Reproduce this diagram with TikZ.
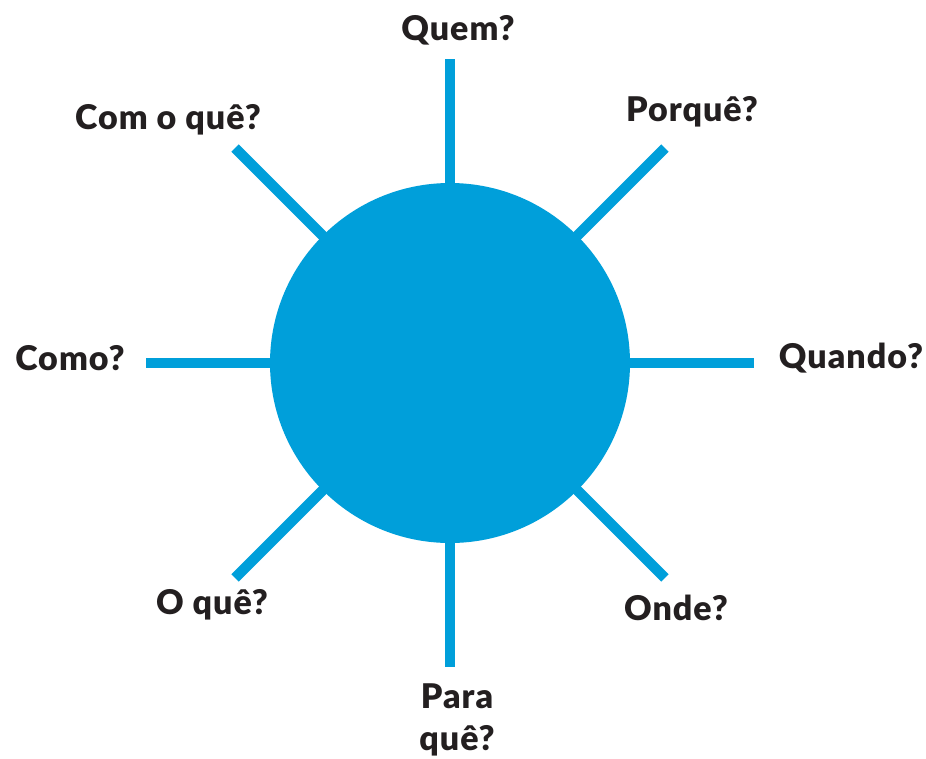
\documentclass[tikz,border=0pt]{standalone}
\usepackage{fontspec}
\setmainfont{Lato}[BoldFont={* Black},LetterSpace=3]
\usetikzlibrary{calc}
\definecolor{sunblue}{HTML}{009FDA}
\definecolor{txt}{HTML}{231F20}
\begin{document}
\begin{tikzpicture}[x=1pt,y=-1pt,
  ray/.style={draw=sunblue,line width=10.5pt},
  lbl/.style={text=txt,font=\fontsize{34}{42}\selectfont\bfseries,inner sep=0pt,align=center}]
\useasboundingbox (0,0) rectangle (926,758);
\coordinate (c) at (450,363);
\foreach \a/\n in {90/t,45/tr,0/r,-45/br,-90/b,-135/bl,180/l,135/tl}{
  \coordinate (e\n) at ($(c)+(\a:304)$);
}
\foreach \n in {t,tr,r,br,b,bl,l,tl}{
  \draw[ray] (c) -- (e\n);
}
\node[circle,fill=sunblue,minimum size=360pt,inner sep=0pt] (sun) at (c) {};
\node[lbl] (quem) at (458,30) {Quem?};
\node[lbl] (porque) at (692,112) {Porquê?};
\node[lbl] (quando) at (851,358) {Quando?};
\node[lbl] (onde) at (676,608) {Onde?};
\node[lbl] (para) at (457,720) {Para\\quê?};
\node[lbl] (oque) at (212,605) {O quê?};
\node[lbl] (como) at (70,358) {Como?};
\node[lbl] (comoque) at (168,120) {Com o quê?};
\end{tikzpicture}
\end{document}
